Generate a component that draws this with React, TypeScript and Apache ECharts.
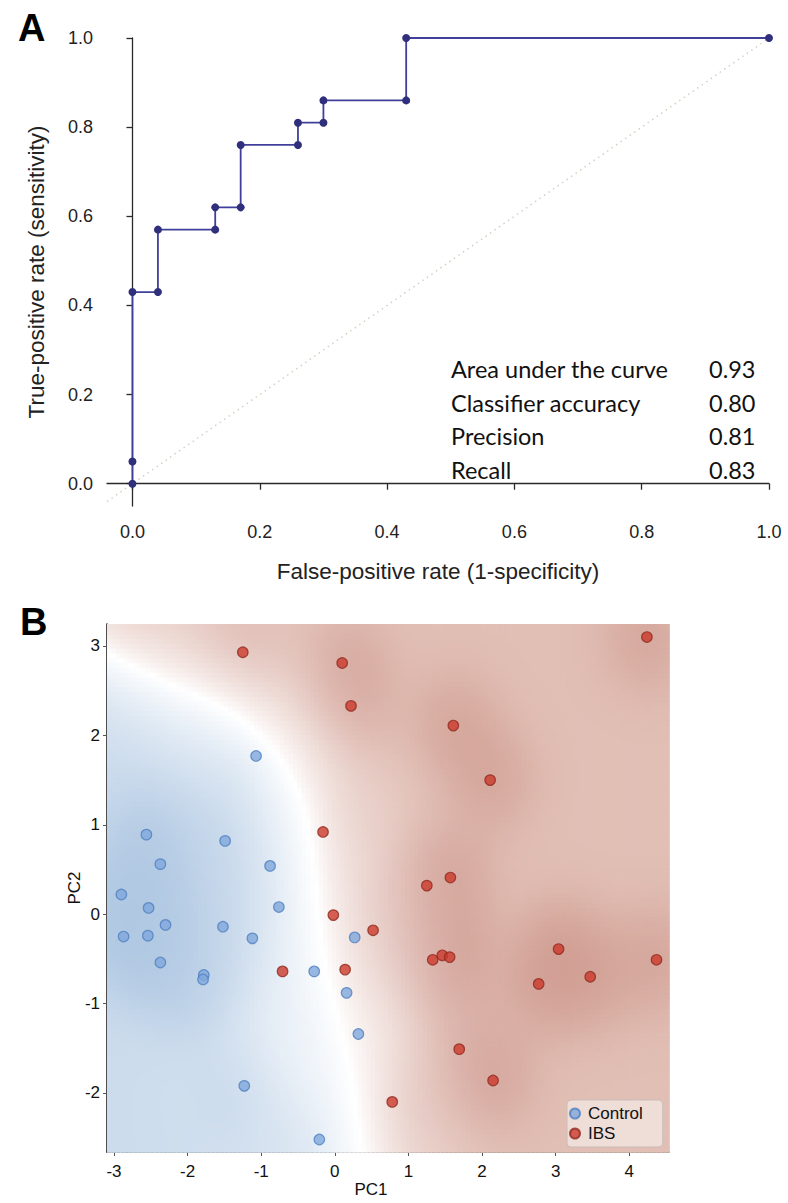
import React, { useEffect, useRef } from "react";
import * as echarts from "echarts";

// ---------- Panel A: ROC curve ----------
const rocFpr = [0, 0, 0, 0.04, 0.04, 0.13, 0.13, 0.17, 0.17, 0.26, 0.26, 0.3, 0.3, 0.43, 0.43, 1.0];
const rocTpr = [0, 0.05, 0.43, 0.43, 0.57, 0.57, 0.62, 0.62, 0.76, 0.76, 0.81, 0.81, 0.86, 0.86, 1.0, 1.0];
const rocTicks = [0, 0.2, 0.4, 0.6, 0.8, 1.0];
const statLabels = ["Area under the curve", "Classifier accuracy", "Precision", "Recall"];
const statValues = ["0.93", "0.80", "0.81", "0.83"];

// ---------- Panel B: PCA scatter ----------
const controlPC1 = [-1.07, -2.56, -1.49, -2.37, -0.88, -2.9, -2.53, -0.76, -2.87, -2.54, -2.3, -1.52, -1.12, -2.37, -1.78, -1.79, 0.27, -0.28, 0.16, 0.32, -1.23, -0.21];
const controlPC2 = [1.77, 0.89, 0.82, 0.56, 0.54, 0.22, 0.07, 0.08, -0.25, -0.24, -0.12, -0.14, -0.27, -0.54, -0.68, -0.73, -0.26, -0.64, -0.88, -1.34, -1.92, -2.52];
const ibsPC1 = [-1.25, 0.1, 0.22, -0.16, -0.02, 0.52, -0.71, 0.14, 0.78, 4.24, 1.61, 2.11, 1.57, 1.25, 1.33, 1.46, 1.56, 3.04, 4.37, 2.77, 3.47, 1.69, 2.15];
const ibsPC2 = [2.93, 2.81, 2.33, 0.92, -0.01, -0.18, -0.64, -0.62, -2.1, 3.1, 2.11, 1.5, 0.41, 0.32, -0.51, -0.46, -0.48, -0.39, -0.51, -0.78, -0.7, -1.51, -1.86];
const pcXTicks = [-3, -2, -1, 0, 1, 2, 3, 4];
const pcYTicks = [-2, -1, 0, 1, 2, 3];

const PC1_MIN = -3.095, PC1_MAX = 4.54, PC2_MIN = -2.66, PC2_MAX = 3.246;

function kernelSum(xs: number[], ys: number[], x: number, y: number, sigma: number) {
  const s2 = 2 * sigma * sigma;
  let f = 0;
  for (let i = 0; i < xs.length; i++) {
    const dx = x - xs[i], dy = y - ys[i];
    f += Math.exp(-(dx * dx + dy * dy) / s2);
  }
  return f;
}

// colour of the classifier surface: sign = class, strength = confidence, halo = local density
function fieldColor(P: number, H: number) {
  const red = P >= 0.5;
  const conf = Math.abs(2 * P - 1);
  const b = red ? Math.pow(conf, 0.8) : Math.pow(conf, 0.95);
  const h = (1 - Math.exp(-H * 0.7)) * 0.95 * b;
  const base = red ? [225, 191, 181] : [203, 219, 236];
  const dark = red ? [204, 148, 137] : [172, 197, 225];
  const c = base.map((v, i) => {
    const w = 255 + (v - 255) * b;
    return Math.round(w + (dark[i] - v) * h);
  });
  return `rgb(${c[0]},${c[1]},${c[2]})`;
}

function buildField() {
  const cols = 130, rows = 110;
  const dx = (PC1_MAX - PC1_MIN) / cols, dy = (PC2_MAX - PC2_MIN) / rows;
  const out: number[][] = [];
  for (let i = 0; i < cols; i++) {
    for (let j = 0; j < rows; j++) {
      const x0 = PC1_MIN + i * dx, y0 = PC2_MIN + j * dy;
      const cx = x0 + dx / 2, cy = y0 + dy / 2;
      const sI = kernelSum(ibsPC1, ibsPC2, cx, cy, 0.9);
      const sC = kernelSum(controlPC1, controlPC2, cx, cy, 0.9) * 0.8;
      const P = sI / (sI + sC + 1e-12);
      const H = P >= 0.5 ? kernelSum(ibsPC1, ibsPC2, cx, cy, 0.42) : kernelSum(controlPC1, controlPC2, cx, cy, 0.42);
      out.push([x0, y0, x0 + dx, y0 + dy, P, H]);
    }
  }
  return out;
}

export default function App() {
  const ref = useRef<HTMLDivElement>(null);
  useEffect(() => {
    document.body.style.margin = "0";
    document.body.style.overflow = "hidden";
    const chart = echarts.init(ref.current!, null, { renderer: "svg" });
    const field = buildField();
    const axisCol = "#2a2a2a";
    const option: any = {
      animation: false,
      backgroundColor: "#ffffff",
      grid: [
        { left: 107, top: 38, width: 662, height: 468 },
        { left: 107, top: 624, width: 562, height: 528 },
      ],
      xAxis: [
        {
          gridIndex: 0, type: "value", min: -0.04, max: 1.0,
          splitLine: { show: false },
          axisLine: { lineStyle: { color: axisCol, width: 1.3 } },
          axisTick: { length: 6, customValues: rocTicks, lineStyle: { color: axisCol, width: 1.3 } },
          axisLabel: { customValues: rocTicks, margin: 17, fontSize: 18, color: "#222", fontFamily: "Liberation Sans", formatter: (v: number) => v.toFixed(1) },
          name: "False-positive rate (1-specificity)", nameLocation: "middle", nameGap: 54, nameMoveOverlap: false,
          nameTextStyle: { fontSize: 22.5, color: "#222", fontFamily: "Liberation Sans" },
        },
        {
          gridIndex: 1, type: "value", min: PC1_MIN, max: PC1_MAX,
          splitLine: { show: false },
          axisLine: { onZero: false, lineStyle: { color: "#222", width: 1.6 } },
          axisTick: { length: 4, customValues: pcXTicks, lineStyle: { color: "#555" } },
          axisLabel: { customValues: pcXTicks, margin: 11, fontSize: 17, color: "#111", fontFamily: "Liberation Sans" },
          name: "PC1", nameLocation: "middle", nameGap: 29, nameMoveOverlap: false,
          nameTextStyle: { fontSize: 17, color: "#111", fontFamily: "Liberation Sans", padding: [0, 34, 0, 0] },
        },
      ],
      yAxis: [
        {
          gridIndex: 0, type: "value", min: -0.05, max: 1.0,
          splitLine: { show: false },
          axisLine: { lineStyle: { color: axisCol, width: 1.3 } },
          axisTick: { length: 6, customValues: rocTicks, lineStyle: { color: axisCol, width: 1.3 } },
          axisLabel: { customValues: rocTicks, margin: 14, fontSize: 18, color: "#222", fontFamily: "Liberation Sans", formatter: (v: number) => v.toFixed(1) },
          name: "True-positive rate (sensitivity)", nameLocation: "middle", nameGap: 59, nameMoveOverlap: false,
          nameTextStyle: { fontSize: 22.5, color: "#222", fontFamily: "Liberation Sans" },
        },
        {
          gridIndex: 1, type: "value", min: PC2_MIN, max: PC2_MAX,
          splitLine: { show: false },
          axisLine: { onZero: false, lineStyle: { color: "#222", width: 1.6 } },
          axisTick: { length: 4, customValues: pcYTicks, lineStyle: { color: "#555" } },
          axisLabel: { customValues: pcYTicks, margin: 7, fontSize: 17, color: "#111", fontFamily: "Liberation Sans" },
          name: "PC2", nameLocation: "middle", nameGap: 24, nameMoveOverlap: false,
          nameTextStyle: { fontSize: 17, color: "#111", fontFamily: "Liberation Sans" },
        },
      ],
      legend: {
        data: ["Control", "IBS"],
        orient: "vertical",
        left: 567, top: 1100,
        itemWidth: 16, itemHeight: 10, itemGap: 1,
        icon: "circle",
        padding: [4, 20, 4, 2],
        backgroundColor: "rgba(243,229,225,0.8)",
        borderColor: "#cbbcb8", borderWidth: 1, borderRadius: 4,
        textStyle: { fontSize: 17, color: "#111", fontFamily: "Liberation Sans", lineHeight: 19 },
      },
      graphic: [
        { type: "text", left: 18, top: 9, style: { text: "A", font: "bold 38px 'Liberation Sans'", fill: "#000" } },
        { type: "text", left: 20, top: 603, style: { text: "B", font: "bold 38px 'Liberation Sans'", fill: "#000" } },
        ...statLabels.map((t, i) => ({
          type: "text", left: 451, top: 357 + i * 33.5,
          style: { text: t, font: "23.5px Lato", fill: "#111" },
        })),
        ...statValues.map((t, i) => ({
          type: "text", left: 709, top: 357 + i * 33.5,
          style: { text: t, font: "23.5px Lato", fill: "#111" },
        })),
      ],
      series: [
        {
          type: "line", xAxisIndex: 0, yAxisIndex: 0, silent: true,
          data: [[-0.04, -0.04], [1, 1]], symbol: "none",
          lineStyle: { color: "#d8cfc2", width: 1.5, type: [1.5, 4] },
        },
        {
          type: "line", xAxisIndex: 0, yAxisIndex: 0, name: "ROC",
          data: rocFpr.map((x, i) => [x, rocTpr[i]]),
          symbol: "circle", symbolSize: 8, showSymbol: true,
          lineStyle: { color: "#40409a", width: 1.8 },
          itemStyle: { color: "#2f2f7c", borderWidth: 0 },
        },
        {
          type: "custom", xAxisIndex: 1, yAxisIndex: 1, silent: true, clip: true,
          data: field,
          renderItem: (params: any, api: any) => {
            const p0 = api.coord([api.value(0), api.value(3)]);
            const p1 = api.coord([api.value(2), api.value(1)]);
            return {
              type: "rect",
              shape: { x: p0[0], y: p0[1], width: p1[0] - p0[0] + 0.8, height: p1[1] - p0[1] + 0.8 },
              style: { fill: fieldColor(api.value(4), api.value(5)) },
            };
          },
          z: 1,
        },
        {
          type: "scatter", name: "Control", xAxisIndex: 1, yAxisIndex: 1,
          data: controlPC1.map((x, i) => [x, controlPC2[i]]),
          symbol: "circle", symbolSize: 10.5,
          itemStyle: { color: "#7fa8dc", borderColor: "#4f7fbf", borderWidth: 1.2 },
          z: 5,
        },
        {
          type: "scatter", name: "IBS", xAxisIndex: 1, yAxisIndex: 1,
          data: ibsPC1.map((x, i) => [x, ibsPC2[i]]),
          symbol: "circle", symbolSize: 10.5,
          itemStyle: { color: "#cc3a2c", borderColor: "#8f2b20", borderWidth: 1.2 },
          z: 5,
        },
      ],
    };
    chart.setOption(option);
    return () => chart.dispose();
  }, []);
  return <div ref={ref} style={{ width: 788, height: 1203 }} />;
}
